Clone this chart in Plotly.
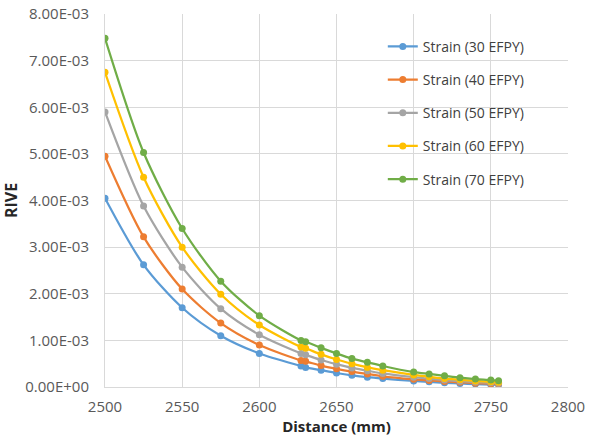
import plotly.graph_objects as go

distance = [2500, 2525, 2550, 2575, 2600, 2627, 2630, 2640, 2650, 2660, 2670, 2680,
            2700, 2710, 2720, 2730, 2740, 2750, 2755]

strain_30 = [4.05e-3, 2.62e-3, 1.70e-3, 1.10e-3, 0.72e-3, 0.45e-3, 0.42e-3, 0.36e-3, 0.30e-3,
             0.25e-3, 0.21e-3, 0.18e-3, 0.13e-3, 0.11e-3, 0.09e-3, 0.075e-3, 0.063e-3, 0.053e-3, 0.048e-3]
strain_40 = [4.95e-3, 3.22e-3, 2.10e-3, 1.37e-3, 0.90e-3, 0.57e-3, 0.55e-3, 0.46e-3, 0.39e-3,
             0.33e-3, 0.28e-3, 0.23e-3, 0.165e-3, 0.14e-3, 0.12e-3, 0.10e-3, 0.083e-3, 0.07e-3, 0.064e-3]
strain_50 = [5.90e-3, 3.88e-3, 2.57e-3, 1.68e-3, 1.12e-3, 0.72e-3, 0.69e-3, 0.58e-3, 0.49e-3,
             0.41e-3, 0.35e-3, 0.29e-3, 0.21e-3, 0.18e-3, 0.15e-3, 0.125e-3, 0.105e-3, 0.09e-3, 0.082e-3]
strain_60 = [6.75e-3, 4.50e-3, 3.00e-3, 1.99e-3, 1.33e-3, 0.86e-3, 0.83e-3, 0.70e-3, 0.59e-3,
             0.50e-3, 0.42e-3, 0.36e-3, 0.26e-3, 0.22e-3, 0.18e-3, 0.155e-3, 0.13e-3, 0.11e-3, 0.10e-3]
strain_70 = [7.48e-3, 5.03e-3, 3.40e-3, 2.27e-3, 1.53e-3, 1.00e-3, 0.97e-3, 0.84e-3, 0.72e-3,
             0.61e-3, 0.53e-3, 0.45e-3, 0.32e-3, 0.28e-3, 0.24e-3, 0.20e-3, 0.17e-3, 0.15e-3, 0.135e-3]

series_names = ["Strain (30 EFPY)", "Strain (40 EFPY)", "Strain (50 EFPY)",
                "Strain (60 EFPY)", "Strain (70 EFPY)"]
series_values = [strain_30, strain_40, strain_50, strain_60, strain_70]
series_colors = ["#5B9BD5", "#ED7D31", "#A5A5A5", "#FFC000", "#70AD47"]

y_tick_vals = [0, 1e-3, 2e-3, 3e-3, 4e-3, 5e-3, 6e-3, 7e-3, 8e-3]
y_tick_text = ["0.00E+00", "1.00E-03", "2.00E-03", "3.00E-03", "4.00E-03",
               "5.00E-03", "6.00E-03", "7.00E-03", "8.00E-03"]

font_family = "'Open Sans', sans-serif"

fig = go.Figure()
for name, vals, col in zip(series_names, series_values, series_colors):
    fig.add_trace(go.Scatter(
        x=distance, y=vals, name=name, legendgroup=name,
        mode="lines+markers",
        line=dict(color=col, width=2.25, shape="spline", smoothing=0.8),
        marker=dict(color=col, size=7, symbol="circle"),
    ))

grid = "#D9D9D9"
fig.update_layout(
    width=605, height=444,
    margin=dict(l=105, r=37, t=14, b=57),
    paper_bgcolor="white", plot_bgcolor="white",
    font=dict(family=font_family, size=14, color="#404040"),
    showlegend=True,
    legend=dict(
        x=0.6, y=0.955, xanchor="left", yanchor="top",
        bgcolor="rgba(0,0,0,0)",
        font=dict(family=font_family, size=14, color="#404040"),
        tracegroupgap=12, traceorder="grouped",
        itemwidth=30,
    ),
    xaxis=dict(
        range=[2500, 2800], dtick=50, tick0=2500,
        showgrid=True, gridcolor=grid, gridwidth=1,
        showline=True, linecolor=grid, linewidth=1, mirror=False,
        zeroline=False, ticks="", automargin=False, ticklabelstandoff=6,
        ticklabeloverflow="allow",
        tickfont=dict(family=font_family, size=15, color="#595959"),
        title=dict(text="<b>Distance (mm)</b>", standoff=4,
                   font=dict(family=font_family, size=15, color="#262626")),
    ),
    yaxis=dict(
        range=[0, 8e-3], tickvals=y_tick_vals, ticktext=y_tick_text,
        showgrid=True, gridcolor=grid, gridwidth=1,
        showline=True, linecolor=grid, linewidth=1,
        zeroline=False, ticks="", automargin=False, ticklabelstandoff=12,
        ticklabeloverflow="allow",
        tickfont=dict(family=font_family, size=15, color="#595959"),
        title=dict(text="<b>RIVE</b>", standoff=6,
                   font=dict(family=font_family, size=16, color="#262626")),
    ),
)

fig.write_html("out.html", config={"displayModeBar": False},
               post_script="document.body.style.margin='0px';")
